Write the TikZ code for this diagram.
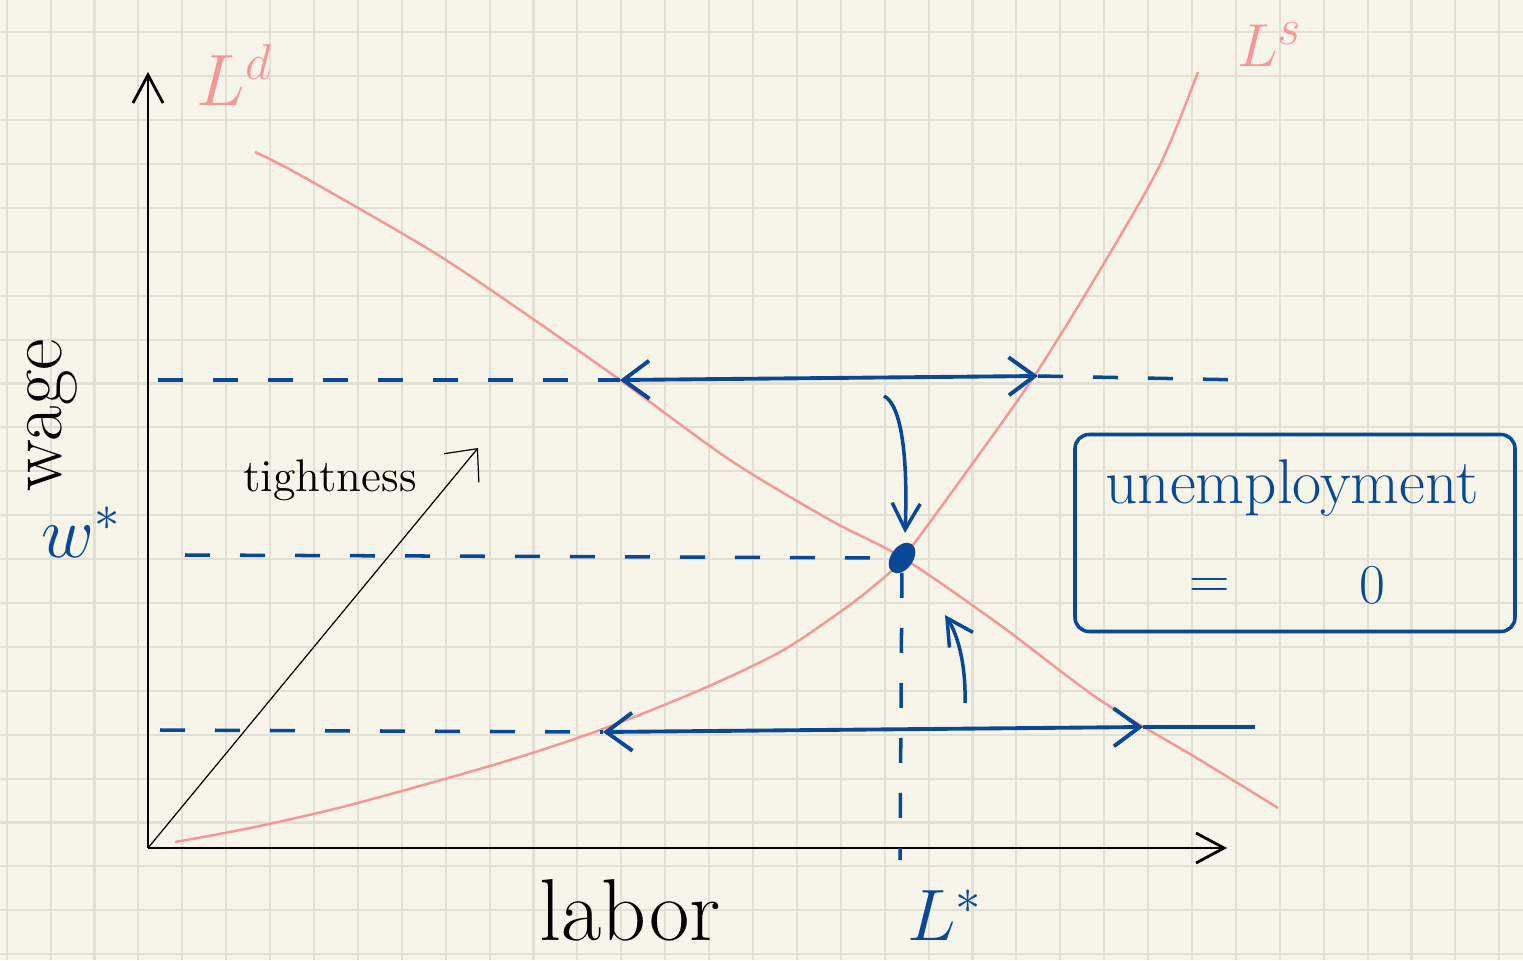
\documentclass[tikz,border=0pt]{standalone}
\usepackage{xcolor}
\definecolor{paper}{RGB}{247,245,234}
\definecolor{gridline}{RGB}{226,224,212}
\definecolor{rosa}{RGB}{246,150,150}
\definecolor{ink}{RGB}{8,72,148}
\usepackage{tikz}
\usetikzlibrary{shapes.geometric, arrows.meta, positioning}

\begin{document}
\begin{tikzpicture}[
    axis/.style={-{Straight Barb[length=2.8mm,width=3mm]}, line width=0.8pt},
    curve/.style={rosa, line width=0.7pt},
    guide/.style={ink, line width=1pt, dash pattern=on 2.5mm off 3mm},
    gap/.style={ink, line width=1.1pt,
                  {Straight Barb[length=2.6mm,width=3.8mm]}-{Straight Barb[length=2.6mm,width=3.8mm]}},
    turn/.style={ink, line width=1pt, -{Straight Barb[length=2.6mm,width=2.8mm]}},
    hand/.style={inner sep=0pt}
  ]
  \useasboundingbox (0,0) rectangle (15.23,9.6);
  \fill[paper] (0,0) rectangle (15.23,9.6);
  % Grid paper
  \foreach \i in {0,...,34}
    \draw[gridline, line width=0.6pt] ({0.067+0.439*\i},0) -- ({0.067+0.439*\i},9.6);
  \foreach \j in {0,...,21}
    \draw[gridline, line width=0.6pt] (0,{9.277-0.439*\j}) -- (15.23,{9.277-0.439*\j});

  % Axes
  \coordinate (O) at (1.48,1.12);
  \coordinate (ytop) at (1.48,8.88);
  \coordinate (xend) at (12.27,1.12);
  \draw[axis] (O) -- (ytop);
  \draw[axis] (O) -- (xend);

  % Demand and supply
  \draw[curve] plot[smooth] coordinates {(2.55,8.08) (3.0,7.85) (4.3,7.10) (5.2,6.50)
    (6.2,5.80) (7.3,5.00) (8.3,4.40) (9.03,4.02) (10.0,3.35) (11.0,2.60) (12.0,2.00) (12.78,1.52)};
  \draw[curve] plot[smooth] coordinates {(1.75,1.18) (2.5,1.32) (3.5,1.55) (5.0,1.97)
    (6.0,2.30) (7.0,2.70) (7.8,3.08) (8.4,3.48) (8.75,3.75) (9.03,4.02) (9.7,4.93) (10.35,5.85)
    (11.0,6.90) (11.6,7.95) (11.98,8.88)};
  \node[hand, rosa, font=\fontsize{22}{26}\selectfont] (Ld) at (2.35,8.85) {$L^{d}$};
  \node[hand, rosa, font=\fontsize{19}{22}\selectfont] (Ls) at (12.70,9.15) {$L^{s}$};

  % Tightness
  \coordinate (tip) at (4.78,5.12);
  \draw[line width=0.35pt, -{Straight Barb[length=2.5mm,width=4.5mm]}] (O) -- (tip);
  \node[hand, font=\fontsize{13}{15}\selectfont] (tight) at (3.30,4.80) {tightness};

  % Equilibrium
  \node[ellipse, fill=ink, rotate=55, minimum width=3.4mm, minimum height=2.2mm, inner sep=0pt]
    (E) at (9.02,4.02) {};
  \coordinate (wstar) at (1.85,4.05);
  \coordinate (Lbase) at (9.00,1.00);
  \draw[guide] (wstar) -- (E);
  \draw[guide] (E) -- (Lbase);

  % High wage: excess supply
  \coordinate (hiL) at (1.58,5.80);
  \coordinate (hiA) at (6.20,5.80);
  \coordinate (hiB) at (10.38,5.84);
  \coordinate (hiR) at (12.45,5.80);
  \draw[guide] (hiL) -- (hiA);
  \draw[gap] (hiA) -- (hiB);
  \draw[guide] (hiB) -- (hiR);

  % Low wage: excess demand
  \coordinate (loL) at (1.60,2.30);
  \coordinate (loA) at (6.03,2.28);
  \coordinate (loB) at (11.43,2.33);
  \coordinate (loR) at (12.55,2.33);
  \draw[guide] (loL) -- (loA);
  \draw[gap] (loA) -- (loB);
  \draw[ink, line width=1pt] (loB) -- (loR);

  % Adjustment arrows
  \coordinate (dn) at (8.84,5.64);
  \coordinate (dnE) at (9.05,4.27);
  \draw[turn] (dn) .. controls (9.02,5.55) and (9.08,5.0) .. (dnE);
  \coordinate (up) at (9.65,2.57);
  \coordinate (upE) at (9.45,3.45);
  \draw[turn] (up) .. controls (9.66,2.95) and (9.58,3.25) .. (upE);

  % Labels
  \node[hand, rotate=90, font=\fontsize{22}{26}\selectfont] (wage) at (0.52,5.45) {wage};
  \node[hand, ink, font=\fontsize{20}{24}\selectfont] (wlab) at (0.82,4.28) {$w^{*}$};
  \node[hand, font=\fontsize{25}{28}\selectfont] (labor) at (6.30,0.50) {labor};
  \node[hand, ink, font=\fontsize{22}{26}\selectfont] (Llab) at (9.45,0.45) {$L^{*}$};

  % Box
  \node[draw=ink, line width=1pt, rounded corners=4pt, minimum width=4.4cm,
        minimum height=1.97cm] (box) at (12.95,4.27) {};
  \node[hand, ink, font=\fontsize{18}{22}\selectfont] (unemp) at (12.92,4.72) {unemployment};
  \node[hand, ink, font=\fontsize{16}{20}\selectfont] (eq) at (12.10,3.72) {=};
  \node[hand, ink, font=\fontsize{16}{20}\selectfont] (zero) at (13.72,3.75) {0};
\end{tikzpicture}
\end{document}
